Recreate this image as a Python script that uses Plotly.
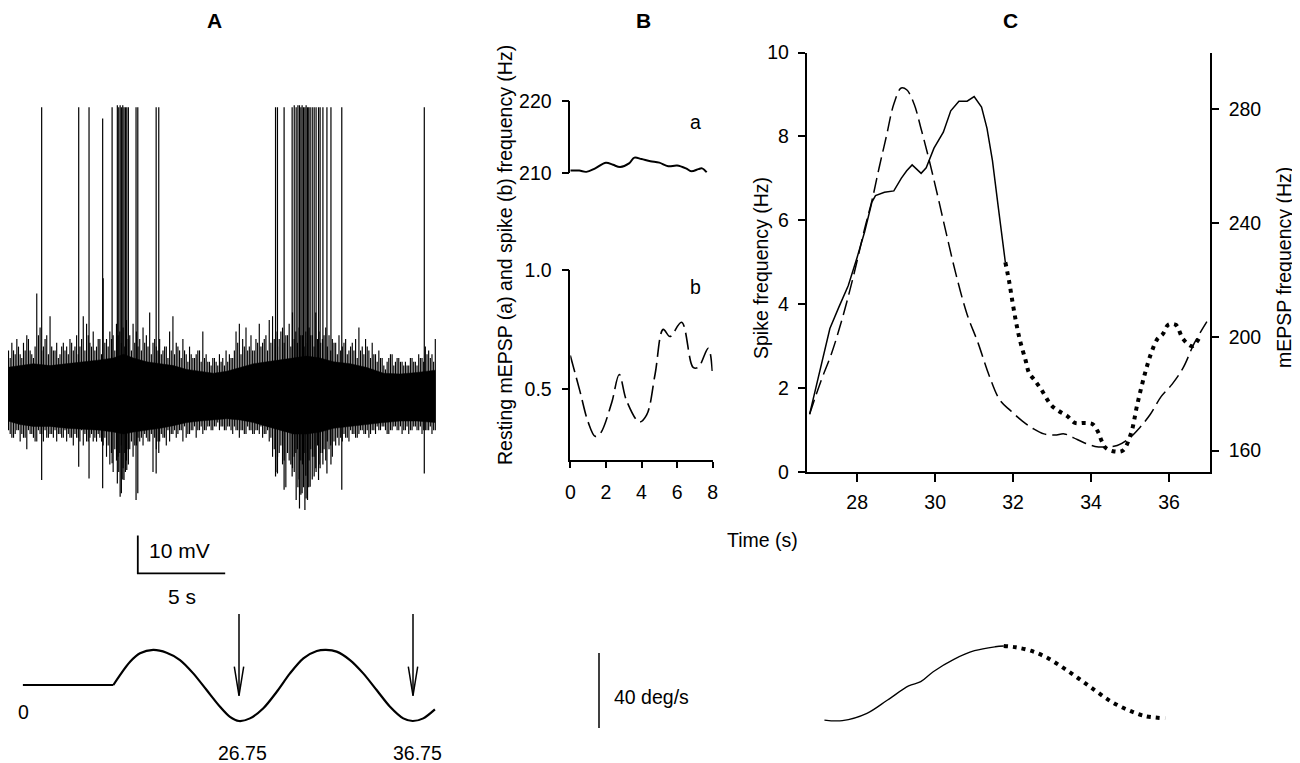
import plotly.graph_objects as go

W, H = 1300, 763
OFF = 8  # the page body margin shifts the figure by 8 px
FONT = "Arial, Liberation Sans, sans-serif"


def px(x):
    return (x - OFF) / W


def py(y):
    return 1 - (y - OFF) / H


# ---- panel A: membrane potential, time (s) from start of trace, mV re. rest
band_t = [0.04, 0.80, 1.56, 2.52, 3.47, 4.62, 5.38, 6.14, 6.72, 7.29, 8.05, 8.82, 9.58, 10.34, 11.10, 11.87,
          12.63, 13.39, 14.16, 14.92, 15.68, 16.45, 17.21, 17.97, 18.74, 19.69, 20.65, 21.60, 22.55, 23.51, 24.56]
band_hi = [7.5, 8.0, 8.5, 8.0, 8.5, 9.0, 9.5, 10.0, 11.0, 10.0, 9.0, 8.5, 8.0, 7.0, 6.5, 6.0,
           6.5, 7.5, 8.5, 9.0, 9.5, 10.0, 10.5, 10.0, 9.0, 8.5, 7.5, 6.0, 5.8, 6.2, 6.8]
band_lo = [-6.5, -7.5, -8.0, -8.0, -8.5, -8.8, -9.0, -9.5, -10.0, -9.5, -9.0, -8.5, -7.8, -7.0, -6.6, -6.3,
           -6.0, -6.3, -7.0, -8.0, -9.0, -10.0, -10.0, -9.5, -8.5, -8.0, -7.4, -7.0, -6.6, -6.6, -7.0]

# noise excursions, one sample every 0.19 s from t = 0.05 s
HAIR_T0, HAIR_DT = 0.05, 0.19
hair_hi = [18, 10, 12, 15, 11, 14, 16, 12, 10, 27,
           18, 13, 16, 21, 12, 14, 11, 14, 13, 15,
           12, 16, 13, 21, 19, 14, 17, 13, 15, 31,
           15, 17, 16, 19, 17, 18, 20, 16, 19, 17,
           15, 18, 16, 22, 14, 13, 15, 12, 13, 17,
           21, 14, 12, 15, 11, 13, 10, 11, 12, 17,
           11, 9, 10, 9, 11, 10, 12, 11, 10, 17,
           19, 15, 18, 13, 12, 15, 19, 14, 16, 20,
           21, 17, 15, 18, 16, 19, 22, 17, 18, 16,
           17, 18, 16, 22, 17, 15, 18, 16, 15, 14,
           16, 13, 15, 12, 14, 15, 18, 13, 15, 12,
           14, 11, 12, 10, 7, 10, 11, 9, 10, 9,
           9, 8, 10, 9, 11, 10, 13, 12, 11, 15]
hair_lo = [-12, -10, -11, -9, -12, -11, -14, -10, -11, -12,
           -10, -12, -11, -10, -11, -12, -10, -11, -12, -11,
           -13, -11, -12, -13, -12, -11, -12, -12, -11, -13,
           -16, -18, -20, -17, -15, -19, -17, -14, -16, -13,
           -12, -13, -11, -12, -20, -14, -12, -11, -13, -12,
           -10, -11, -9, -12, -11, -10, -9, -11, -9, -10,
           -9, -8, -9, -8, -9, -8, -9, -8, -10, -9,
           -11, -9, -10, -9, -10, -9, -10, -11, -10, -12,
           -16, -20, -15, -18, -24, -17, -19, -15, -22, -18,
           -21, -17, -16, -19, -18, -15, -17, -14, -16, -13,
           -13, -12, -11, -12, -10, -11, -10, -9, -10, -11,
           -9, -10, -9, -8, -9, -10, -9, -8, -9, -10,
           -9, -10, -9, -8, -9, -10, -9, -9, -10, -9]
# smaller excursions in between (offset by half a sample)
hair2_hi = [12, 14, 11, 13, 10, 12, 15, 11, 13, 16,
            12, 15, 11, 13, 12, 10, 13, 12, 11, 14,
            13, 11, 15, 12, 16, 13, 12, 15, 11, 14,
            13, 15, 12, 16, 14, 13, 15, 12, 14, 13,
            12, 14, 13, 11, 15, 12, 11, 13, 10, 12,
            11, 13, 10, 12, 9, 11, 10, 12, 9, 10,
            9, 8, 10, 8, 9, 8, 9, 10, 12, 14,
            11, 13, 12, 16, 12, 14, 13, 15, 12, 14,
            15, 13, 17, 14, 16, 13, 15, 14, 16, 13,
            14, 16, 13, 15, 14, 16, 13, 12, 14, 11,
            12, 14, 11, 13, 12, 10, 12, 11, 13, 10,
            11, 9, 10, 8, 9, 11, 8, 10, 9, 8,
            8, 10, 9, 8, 10, 9, 11, 10, 9, 11]
hair2_lo = [-9, -11, -10, -9, -10, -11, -9, -10, -12, -9,
            -10, -9, -11, -10, -9, -10, -11, -9, -10, -11,
            -10, -11, -9, -10, -12, -10, -11, -10, -12, -11,
            -13, -15, -14, -16, -13, -15, -14, -12, -13, -11,
            -11, -10, -12, -10, -11, -12, -10, -11, -9, -10,
            -9, -10, -9, -8, -10, -9, -8, -9, -8, -9,
            -8, -9, -8, -7, -8, -9, -8, -9, -8, -9,
            -9, -10, -8, -9, -10, -9, -8, -10, -9, -11,
            -14, -16, -13, -17, -15, -18, -16, -14, -17, -15,
            -15, -14, -16, -13, -15, -14, -12, -13, -12, -11,
            -11, -10, -11, -9, -10, -11, -9, -10, -9, -10,
            -9, -8, -9, -8, -10, -9, -8, -9, -8, -9,
            -8, -9, -8, -9, -8, -9, -9, -8, -9, -8]

spike_t = [2.04, 4.16, 4.75, 5.53, 6.07, 6.37, 6.45, 6.53, 6.60, 6.68, 6.75, 6.83, 6.91, 7.00, 7.44, 7.54,
           8.59, 8.74, 15.42, 15.53, 15.91, 16.37, 16.49, 16.60, 16.70, 16.79, 16.87, 16.94, 17.02, 17.10,
           17.17, 17.25, 17.32, 17.40, 17.52, 17.63, 17.74, 17.88, 17.97, 18.13, 18.36, 18.59, 19.21, 23.93]
spike_top = [76, 76, 76, 73, 76, 76.5, 76, 76.5, 76, 76.5, 76, 76, 76, 76, 76, 76,
             76, 76, 76, 76, 76, 76, 76.5, 76, 76.5, 76.5, 76, 76.5, 76, 76,
             76.5, 76, 76, 76, 76, 76, 76, 76, 76, 76, 76, 76, 76, 76]
spike_bot = [-22.1, -18.6, -21.7, -24.3, -17.7, -23.0, -20.0, -26.5, -25.6, -22.0, -22.1, -20.0, -19.5, -18.0,
             -27.4, -25.6, -20.4, -15.0, -21.2, -20.4, -24.7, -21.2, -20.0, -27.4, -24.0, -29.6, -26.0, -25.6,
             -24.0, -30.0, -27.0, -27.4, -24.0, -23.9, -22.0, -21.2, -20.0, -22.1, -19.0, -18.0, -20.4, -18.0,
             -24.7, -20.4]

# ---- panel A: stimulus velocity (deg/s) vs time (s)
stim_t = [0.0, 19.53, 19.91, 20.49, 21.06, 21.82, 22.59, 23.36, 24.12, 24.89, 25.66, 26.23, 26.75, 27.38,
          28.15, 28.92, 29.68, 30.45, 31.22, 31.75, 32.36, 33.13, 33.89, 34.66, 35.43, 36.19, 36.73, 37.34, 38.01]
stim_v = [0.0, 0.0, 5.3, 12.4, 16.9, 18.7, 17.2, 13.3, 6.2, -2.7, -11.6, -17.0, -19.2, -17.8,
          -12.4, -3.6, 6.2, 14.2, 18.1, 18.7, 17.8, 13.3, 6.2, -2.7, -11.6, -17.8, -19.2, -17.8, -13.0]
arrow_t = [26.75, 36.75]
arrow_labels = ["26.75", "36.75"]

# ---- panel B
ba_t = [0.0, 0.5, 0.9, 1.4, 2.0, 2.4, 2.8, 3.3, 3.6, 4.0, 4.5, 5.0, 5.5, 6.0, 6.5, 6.8, 7.2, 7.4, 7.66]
ba_v = [210.3, 210.3, 210.1, 210.6, 211.4, 211.1, 210.8, 211.3, 212.1, 211.9, 211.6, 211.4, 210.9, 211.0,
        210.6, 210.2, 210.5, 210.6, 210.05]
bb_t = [0.0, 0.54, 1.0, 1.39, 1.67, 2.32, 2.75, 3.16, 3.88, 4.29, 4.76, 5.22, 5.6, 6.25, 6.9, 7.19, 7.75, 7.98]
bb_v = [0.64, 0.49, 0.36, 0.30, 0.31, 0.44, 0.56, 0.45, 0.36, 0.39, 0.56, 0.75, 0.72, 0.78, 0.59, 0.59, 0.67, 0.57]

# ---- panel C
c_spk_t = [26.78, 27.01, 27.3, 27.53, 27.77, 28.0, 28.19, 28.38, 28.47, 28.7, 28.94, 29.13, 29.27, 29.41,
           29.5, 29.64, 29.77, 29.97, 30.21, 30.4, 30.61, 30.82, 31.0, 31.19, 31.33, 31.47, 31.62, 31.8]
c_spk_v = [1.38, 2.31, 3.42, 3.93, 4.44, 5.12, 5.72, 6.44, 6.59, 6.67, 6.70, 7.0, 7.18, 7.32,
           7.25, 7.12, 7.25, 7.72, 8.1, 8.61, 8.84, 8.84, 8.95, 8.7, 8.19, 7.42, 6.31, 5.0]
c_spk2_t = [31.8, 31.9, 31.99, 32.08, 32.18, 32.32, 32.41, 32.55, 32.72, 32.98, 33.16, 33.38, 33.59, 33.82,
            34.04, 34.18, 34.27, 34.38, 34.6, 34.81, 35.02, 35.18, 35.37, 35.54, 35.7, 35.84, 35.98, 36.17,
            36.36, 36.59, 36.78]
c_spk2_v = [5.0, 4.53, 4.02, 3.55, 3.12, 2.66, 2.36, 2.19, 1.97, 1.59, 1.46, 1.34, 1.17, 1.17,
            1.14, 0.95, 0.74, 0.57, 0.49, 0.51, 0.91, 1.59, 2.31, 2.83, 3.17, 3.29, 3.51, 3.51,
            3.17, 3.0, 3.21]
c_mep_t = [26.78, 27.06, 27.34, 27.62, 27.91, 28.19, 28.38, 28.56, 28.75, 28.94, 29.13, 29.27, 29.46, 29.64,
           29.83, 30.07, 30.3, 30.54, 30.82, 31.1, 31.38, 31.66, 31.94, 32.23, 32.51, 32.79, 33.07, 33.31,
           33.54, 33.82, 34.1, 34.38, 34.67, 34.95, 35.23, 35.52, 35.8, 36.08, 36.36, 36.65, 36.97]
c_mep_v = [172.8, 184.1, 194.1, 206.6, 221.7, 238.0, 248.0, 259.3, 270.6, 281.9, 287.5, 286.9, 281.9, 273.1,
           263.1, 249.3, 235.5, 221.7, 207.9, 197.9, 186.6, 177.8, 174.0, 170.5, 167.8, 165.9, 165.5, 165.9,
           164.6, 162.8, 161.5, 161.3, 161.8, 164.0, 167.8, 172.8, 179.1, 183.4, 189.1, 197.9, 205.4]
c_vel_t = [27.16, 27.62, 28.25, 28.78, 29.32, 29.63, 29.95, 30.48, 31.01, 31.54, 31.76]
c_vel_v = [-18.7, -19.0, -15.1, -8.0, -0.5, 1.8, 7.1, 13.7, 18.3, 20.4, 20.8]
c_vel2_t = [31.76, 32.07, 32.45, 32.82, 33.24, 33.67, 34.09, 34.52, 34.94, 35.37, 35.9]
c_vel2_v = [20.8, 20.1, 18.3, 15.1, 9.8, 3.6, -2.7, -8.9, -13.3, -16.5, -17.8]

fig = go.Figure()

# A: noisy trace
fig.add_trace(go.Scatter(x=band_t, y=band_lo, mode="lines", line=dict(color="black", width=0.5),
                         xaxis="x", yaxis="y"))
fig.add_trace(go.Scatter(x=band_t, y=band_hi, mode="lines", fill="tonexty", fillcolor="black",
                         line=dict(color="black", width=0.5), xaxis="x", yaxis="y"))
hx, hy = [], []
for t0, his, los in [(HAIR_T0, hair_hi, hair_lo), (HAIR_T0 + HAIR_DT / 2, hair2_hi, hair2_lo)]:
    for i, (a, b) in enumerate(zip(his, los)):
        t = t0 + i * HAIR_DT
        hx += [t, t, None]
        hy += [b, a, None]
fig.add_trace(go.Scatter(x=hx, y=hy, mode="lines", line=dict(color="black", width=1.15), xaxis="x", yaxis="y"))
sx, sy = [], []
for t, a, b in zip(spike_t, spike_top, spike_bot):
    sx += [t, t, None]
    sy += [b, a, None]
fig.add_trace(go.Scatter(x=sx, y=sy, mode="lines", line=dict(color="black", width=1.2), xaxis="x", yaxis="y"))

# A: scale bar (10 mV, 5 s)
bar_t0, bar_v0 = 7.54, -46.7
fig.add_trace(go.Scatter(x=[bar_t0, bar_t0, bar_t0 + 5], y=[bar_v0 + 10, bar_v0, bar_v0], mode="lines",
                         line=dict(color="black", width=1.8), xaxis="x", yaxis="y"))

# A: stimulus (the pre-sine flat part is drawn compressed)
BRK, FLAT = 19.53, 5.2
stim_x = [t if t >= BRK else BRK - (BRK - t) * FLAT / BRK for t in stim_t]
fig.add_trace(go.Scatter(x=stim_x[:2], y=stim_v[:2], mode="lines", line=dict(color="black", width=2.2),
                         xaxis="x5", yaxis="y6"))
fig.add_trace(go.Scatter(x=stim_x[1:], y=stim_v[1:], mode="lines",
                         line=dict(color="black", width=2.2, shape="spline", smoothing=0.8),
                         xaxis="x5", yaxis="y6"))
ax, ay = [], []
for t in arrow_t:
    tip = -5.7
    ax += [t, t, None, t - 0.27, t, t + 0.27, None]
    ay += [37.9, tip, None, tip + 15.5, tip, tip + 15.5, None]
fig.add_trace(go.Scatter(x=ax, y=ay, mode="lines", line=dict(color="black", width=1.5), xaxis="x5", yaxis="y6"))

# B
fig.add_trace(go.Scatter(x=ba_t, y=ba_v, mode="lines", line=dict(color="black", width=2, shape="spline"),
                         xaxis="x2", yaxis="y2"))
fig.add_trace(go.Scatter(x=bb_t, y=bb_v, mode="lines",
                         line=dict(color="black", width=1.6, shape="spline", dash="17px,6px"),
                         xaxis="x3", yaxis="y3"))

# C
fig.add_trace(go.Scatter(x=c_mep_t, y=c_mep_v, mode="lines",
                         line=dict(color="black", width=1.5, shape="spline", dash="15px,6px"),
                         xaxis="x4", yaxis="y5"))
fig.add_trace(go.Scatter(x=c_spk_t, y=c_spk_v, mode="lines", line=dict(color="black", width=1.5),
                         xaxis="x4", yaxis="y4"))
fig.add_trace(go.Scatter(x=c_spk2_t, y=c_spk2_v, mode="lines",
                         line=dict(color="black", width=4, shape="spline", dash="4px,5px"),
                         xaxis="x4", yaxis="y4"))
fig.add_trace(go.Scatter(x=c_vel_t, y=c_vel_v, mode="lines", line=dict(color="black", width=1.3, shape="spline"),
                         xaxis="x6", yaxis="y6"))
fig.add_trace(go.Scatter(x=c_vel2_t, y=c_vel2_v, mode="lines",
                         line=dict(color="black", width=4, shape="spline", dash="4px,5px"),
                         xaxis="x6", yaxis="y6"))

tickfont = dict(family=FONT, size=19.5, color="black")
hidden = dict(visible=False, showgrid=False, zeroline=False)
axis = dict(showline=True, linecolor="black", linewidth=1.5, ticks="outside", tickcolor="black", tickwidth=1.5,
            showgrid=False, zeroline=False, tickfont=tickfont, automargin=False)

c_x_range = [26.7, 37.05]
fig.update_layout(
    width=W, height=H, margin=dict(l=0, r=0, t=0, b=0), showlegend=False,
    paper_bgcolor="white", plot_bgcolor="rgba(0,0,0,0)",
    xaxis=dict(domain=[px(8), px(436)], range=[(8 - 6) / 17.47, 24.6], anchor="y", **hidden),
    yaxis=dict(domain=[py(590), py(100)], range=[(396 - 590) / 3.8, (396 - 100) / 3.8], anchor="x", **hidden),
    xaxis2=dict(domain=[px(570.3), px(712.7)], range=[0, 8], anchor="y2", **hidden),
    yaxis2=dict(domain=[py(172.7), py(101)], range=[210, 220], anchor="x2", tickvals=[210, 220], ticklen=7,
                ticklabelstandoff=6, **axis),
    xaxis3=dict(domain=[px(570.3), px(712.7)], range=[0, 8], anchor="y3", tickvals=[0, 2, 4, 6, 8], ticklen=6,
                ticklabelstandoff=8, **axis),
    yaxis3=dict(domain=[py(460), py(270)], range=[0.2, 1.0], anchor="x3", tickvals=[0.5, 1.0],
                ticktext=["0.5", "1.0"], ticklen=7, ticklabelstandoff=6, **axis),
    xaxis4=dict(domain=[px(806.5), px(1210)], range=c_x_range, anchor="y4", tickvals=[28, 30, 32, 34, 36],
                ticklen=8, ticklabelstandoff=4, **axis),
    yaxis4=dict(domain=[py(472), py(52.5)], range=[0, 10], anchor="x4", tickvals=[0, 2, 4, 6, 8, 10], ticklen=7,
                ticklabelstandoff=5, **axis),
    yaxis5=dict(range=[152.5, 300], overlaying="y4", side="right", anchor="x4", tickvals=[160, 200, 240, 280],
                ticklen=7, ticklabelstandoff=6, **axis),
    xaxis5=dict(domain=[0, px(450)], range=[26.75 - 231 / 17.4, 26.75 + 211 / 17.4], anchor="y6", **hidden),
    yaxis6=dict(domain=[0, py(600)], range=[(685 - 771) / 1.875, (685 - 600) / 1.875], anchor="x5", **hidden),
    xaxis6=dict(domain=[px(806.5), px(1210)], range=c_x_range, anchor="y6", **hidden),
)

ann = []


def label(text, x, y, size=19.5, bold=False, angle=0, xanchor="center", yanchor="middle"):
    ann.append(dict(text=f"<b>{text}</b>" if bold else text, x=px(x), y=py(y), xref="paper", yref="paper",
                    showarrow=False, textangle=angle, xanchor=xanchor, yanchor=yanchor, borderpad=0,
                    font=dict(family=FONT, size=size, color="black")))


label("A", 214, 8, size=21, bold=True, yanchor="top")
label("B", 643, 8, size=21, bold=True, yanchor="top")
label("C", 1010, 8, size=21, bold=True, yanchor="top")
label("10 mV", 179, 550, size=21)
label("5 s", 182, 596, size=21)
label("0", 23, 712)
label(arrow_labels[0], 242.5, 753)
label(arrow_labels[1], 417, 753)
label("40 deg/s", 613, 697, xanchor="left")
label("Resting mEPSP (a) and spike (b) frequency (Hz)", 505, 255, angle=-90)
label("a", 695, 122)
label("b", 695, 287)
label("Time (s)", 762, 540)
label("Spike frequency (Hz)", 761, 268, angle=-90)
label("mEPSP frequency (Hz)", 1284, 268, angle=-90)
fig.update_layout(annotations=ann)

# 40 deg/s scale bar
fig.add_shape(type="line", xref="paper", yref="paper", x0=px(599), x1=px(599), y0=py(653), y1=py(653 + 40 * 1.875),
              line=dict(color="black", width=1.5))

fig.write_html("out.html")
